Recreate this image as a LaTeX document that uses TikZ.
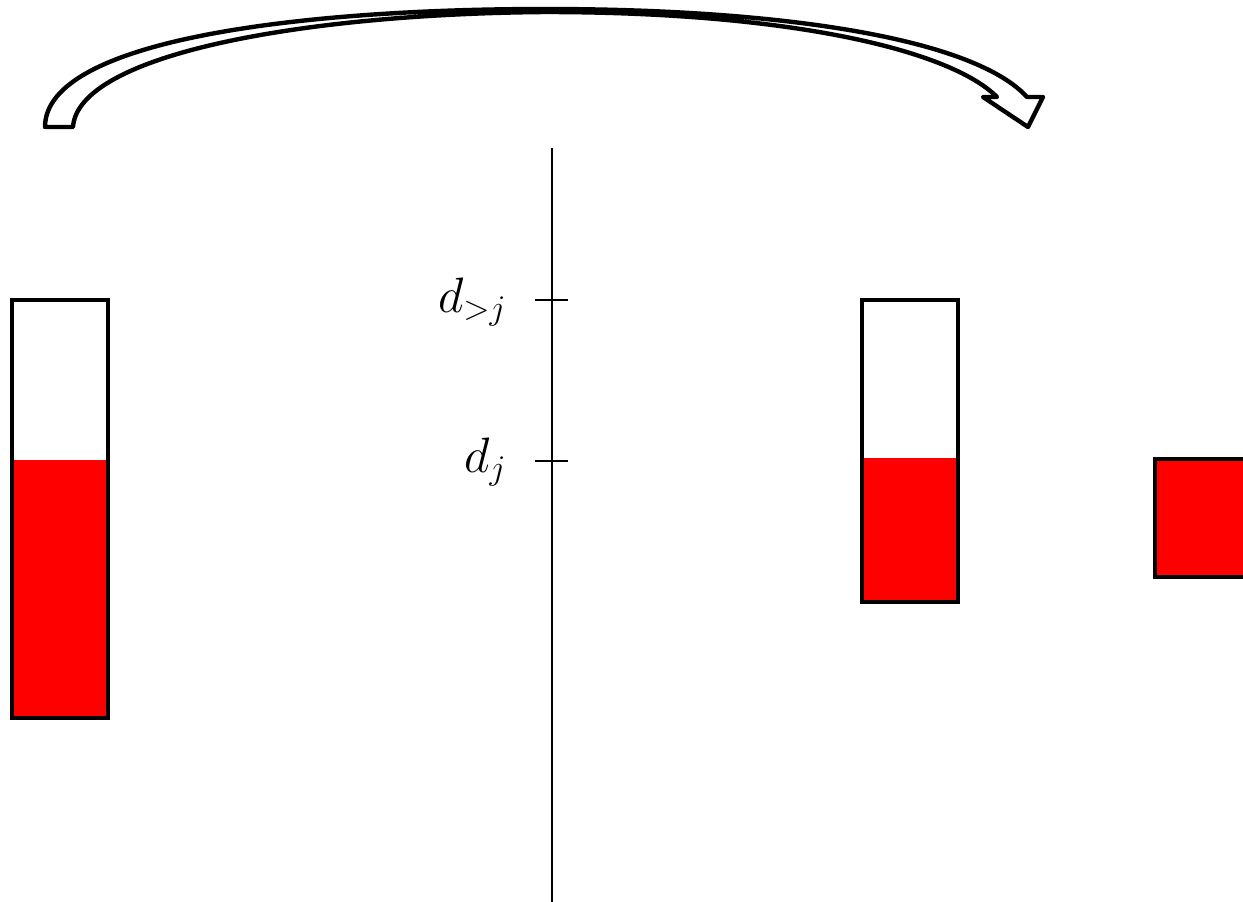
\documentclass[tikz,border=0pt]{standalone}
\begin{document}
\begin{tikzpicture}[x=0.5pt,y=-0.5pt]
    \tikzset{
        bin/.style={draw, line width=2.4pt},
        level/.style={fill=red},
        axis/.style={line width=1pt},
        lbl/.style={anchor=base east, inner sep=0pt, font=\fontsize{26}{30}\selectfont},
        bigarrow/.style={draw, fill=white, line width=2.2pt, line join=round}
    }
    \useasboundingbox (0,0) rectangle (1243,901);

    % the curved move arrow
    \draw[bigarrow] (45,127) -- (73,127)
        .. controls (78,55) and (300,14) .. (545,12)
        .. controls (790,12) and (950,50) .. (997,97)
        -- (983,97) -- (1028,127) -- (1043,97) -- (1027,97)
        .. controls (975,40) and (790,9) .. (545,9)
        .. controls (300,9) and (45,40) .. cycle;

    % bins
    \fill[level] (12,460) rectangle (108,718);
    \draw[bin] (12,300) rectangle (108,718);
    \fill[level] (862,458) rectangle (958,602);
    \draw[bin] (862,300) rectangle (958,602);
    \draw[bin, level] (1155,459) rectangle (1280,577);

    % axis with ticks
    \coordinate (top) at (552,148);
    \coordinate (bot) at (552,905);
    \draw[axis] (top) -- (bot);
    \foreach \n/\y/\b/\t in {gt/300/312/{d_{>j}}, eq/461/472/{d_j}}{
        \coordinate (t\n) at (552,\y);
        \draw[axis] ([xshift=-8.5pt]t\n) -- ([xshift=8pt]t\n);
        \node[lbl] (l\n) at (507,\b) {$\t$};
    }
\end{tikzpicture}
\end{document}
